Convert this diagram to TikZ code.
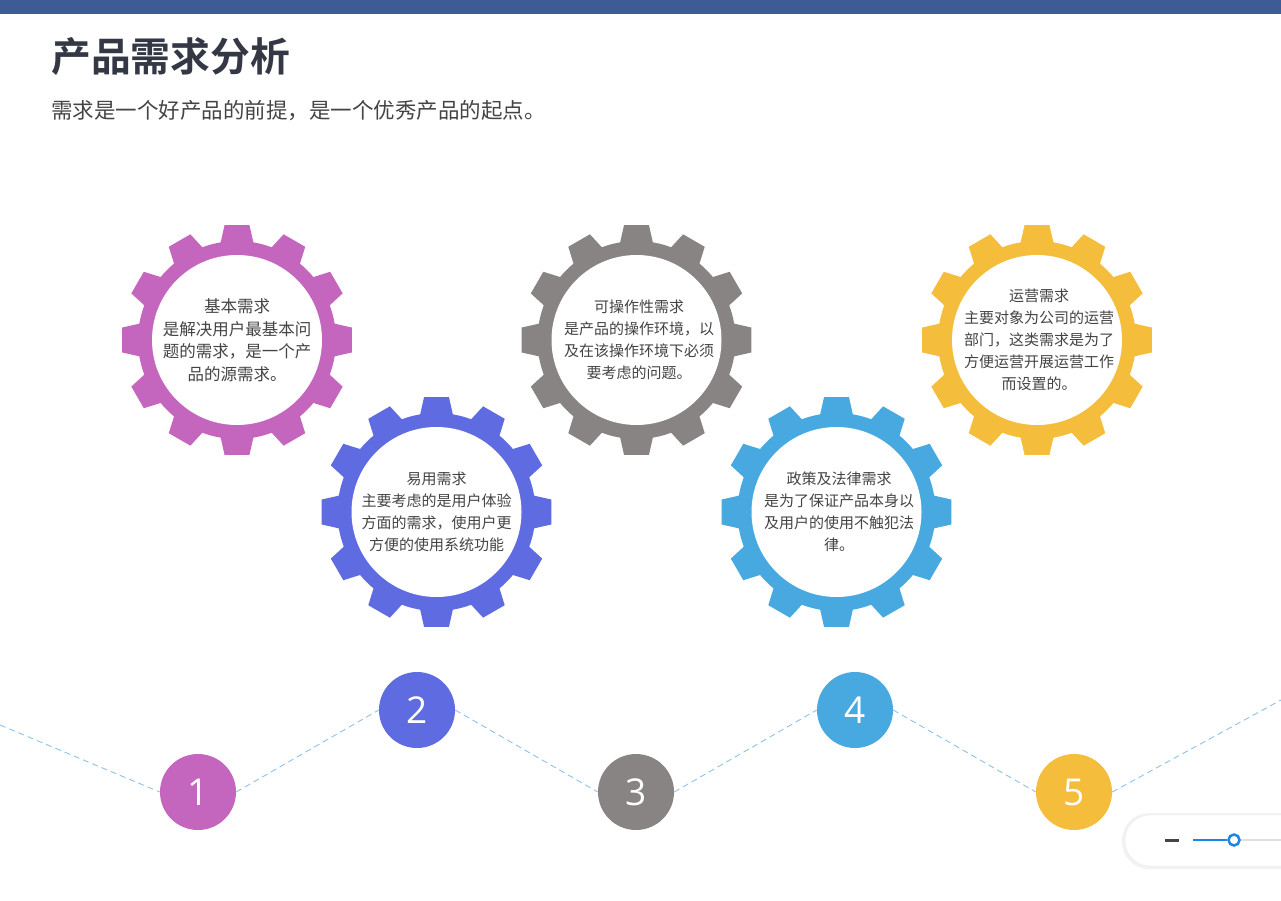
\documentclass[tikz,border=0pt]{standalone}
\usepackage{fontspec}
\newfontfamily\cjk{Noto Sans CJK SC}
\newfontfamily\cjkb{Noto Sans CJK SC Bold}
\newfontfamily\numfont{Open Sans}
\definecolor{cpurple}{HTML}{C466BE}
\definecolor{cviolet}{HTML}{5F6BE0}
\definecolor{cgray}{HTML}{878483}
\definecolor{cblue}{HTML}{47A9E0}
\definecolor{cyellow}{HTML}{F5BD3C}
\definecolor{cbar}{HTML}{3E5B96}
\definecolor{ctitle}{HTML}{333844}
\definecolor{ctext}{HTML}{444444}
\definecolor{cdash}{HTML}{8EC3E8}
\definecolor{cslider}{HTML}{1A87E6}
\newcommand{\mygear}[3]{%
  \begin{scope}[shift={(#1,#2)}]
    \fill[#3] (-9.5:99) \foreach \a in {0,30,...,330} {
      -- (\a-9.5:99) -- (\a-6.2:115.5) -- (\a+6.2:115.5) -- (\a+9.5:99)
      arc[start angle=\a+9.5, end angle=\a+20.5, radius=99] } -- cycle;
    \fill[white] (0,0) circle (85);
  \end{scope}}
\begin{document}
\begin{tikzpicture}[x=1pt,y=-1pt,
  gtext/.style={font=\cjk\fontsize{15}{22}\selectfont, text=ctext, align=center, inner sep=0pt},
  numc/.style={circle, minimum size=76pt, inner sep=0pt, text=white, font=\numfont\fontsize{37}{37}\selectfont},
  dashline/.style={draw=cdash, dash pattern=on 6pt off 4pt, line width=0.9pt}]
\useasboundingbox (0,0) rectangle (1281,901);
\fill[white] (0,0) rectangle (1281,901);
\fill[cbar] (0,0) rectangle (1281,14);
\node[anchor=west, inner sep=0pt, text=ctitle, font=\cjkb\fontsize{39.8}{40}\selectfont] (title) at (51,57) {产品需求分析};
\node[anchor=west, inner sep=0pt, text=ctext, font=\cjk\fontsize{21.5}{21.5}\selectfont] (sub) at (51,111) {需求是一个好产品的前提，是一个优秀产品的起点。};

\mygear{237}{340}{cpurple}
\mygear{436.5}{512}{cviolet}
\mygear{636.5}{340}{cgray}
\mygear{836.5}{512}{cblue}
\mygear{1037}{340}{cyellow}

\node[gtext, font=\cjk\fontsize{16.5}{22.5}\selectfont] (t1) at (237,340) {基本需求\\是解决用户最基本问\\题的需求，是一个产\\品的源需求。};
\node[gtext] (t2) at (436.5,512) {易用需求\\主要考虑的是用户体验\\方面的需求，使用户更\\方便的使用系统功能};
\node[gtext] (t3) at (639,340) {可操作性需求\\是产品的操作环境，以\\及在该操作环境下必须\\要考虑的问题。};
\node[gtext] (t4) at (839,512) {政策及法律需求\\是为了保证产品本身以\\及用户的使用不触犯法\\律。};
\node[gtext] (t5) at (1039,340) {运营需求\\主要对象为公司的运营\\部门，这类需求是为了\\方便运营开展运营工作\\而设置的。};

\node[numc, fill=cpurple] (n1) at (198,792) {1};
\node[numc, fill=cviolet] (n2) at (417,710) {2};
\node[numc, fill=cgray] (n3) at (636,792) {3};
\node[numc, fill=cblue] (n4) at (855,710) {4};
\node[numc, fill=cyellow] (n5) at (1074,792) {5};

\coordinate (L) at (0,725);
\coordinate (R) at (1281,700);
\draw[dashline] (L) -- (n1.west);
\draw[dashline] (n1.east) -- (n2.west);
\draw[dashline] (n2.east) -- (n3.west);
\draw[dashline] (n3.east) -- (n4.west);
\draw[dashline] (n4.east) -- (n5.west);
\draw[dashline] (n5.east) -- (R);

% zoom widget
\begin{scope}
\clip (0,0) rectangle (1281,901);
\fill[black!5, rounded corners=27pt] (1122,813) rectangle (1320,869);
\filldraw[fill=white, draw=black!8, rounded corners=25pt] (1125,815) rectangle (1320,866);
\end{scope}
\draw[line width=3pt, draw=ctext] (1165,840) -- (1179,840);
\coordinate (s0) at (1193,840);
\coordinate (s2) at (1281,840);
\node[circle, draw=cslider, line width=2.5pt, fill=white, minimum size=11pt, inner sep=0pt] (knob) at (1234,840) {};
\draw[line width=2.5pt, draw=black!12] (knob.east) -- (s2);
\draw[line width=2.5pt, draw=cslider] (s0) -- (knob.west);
\end{tikzpicture}
\end{document}
